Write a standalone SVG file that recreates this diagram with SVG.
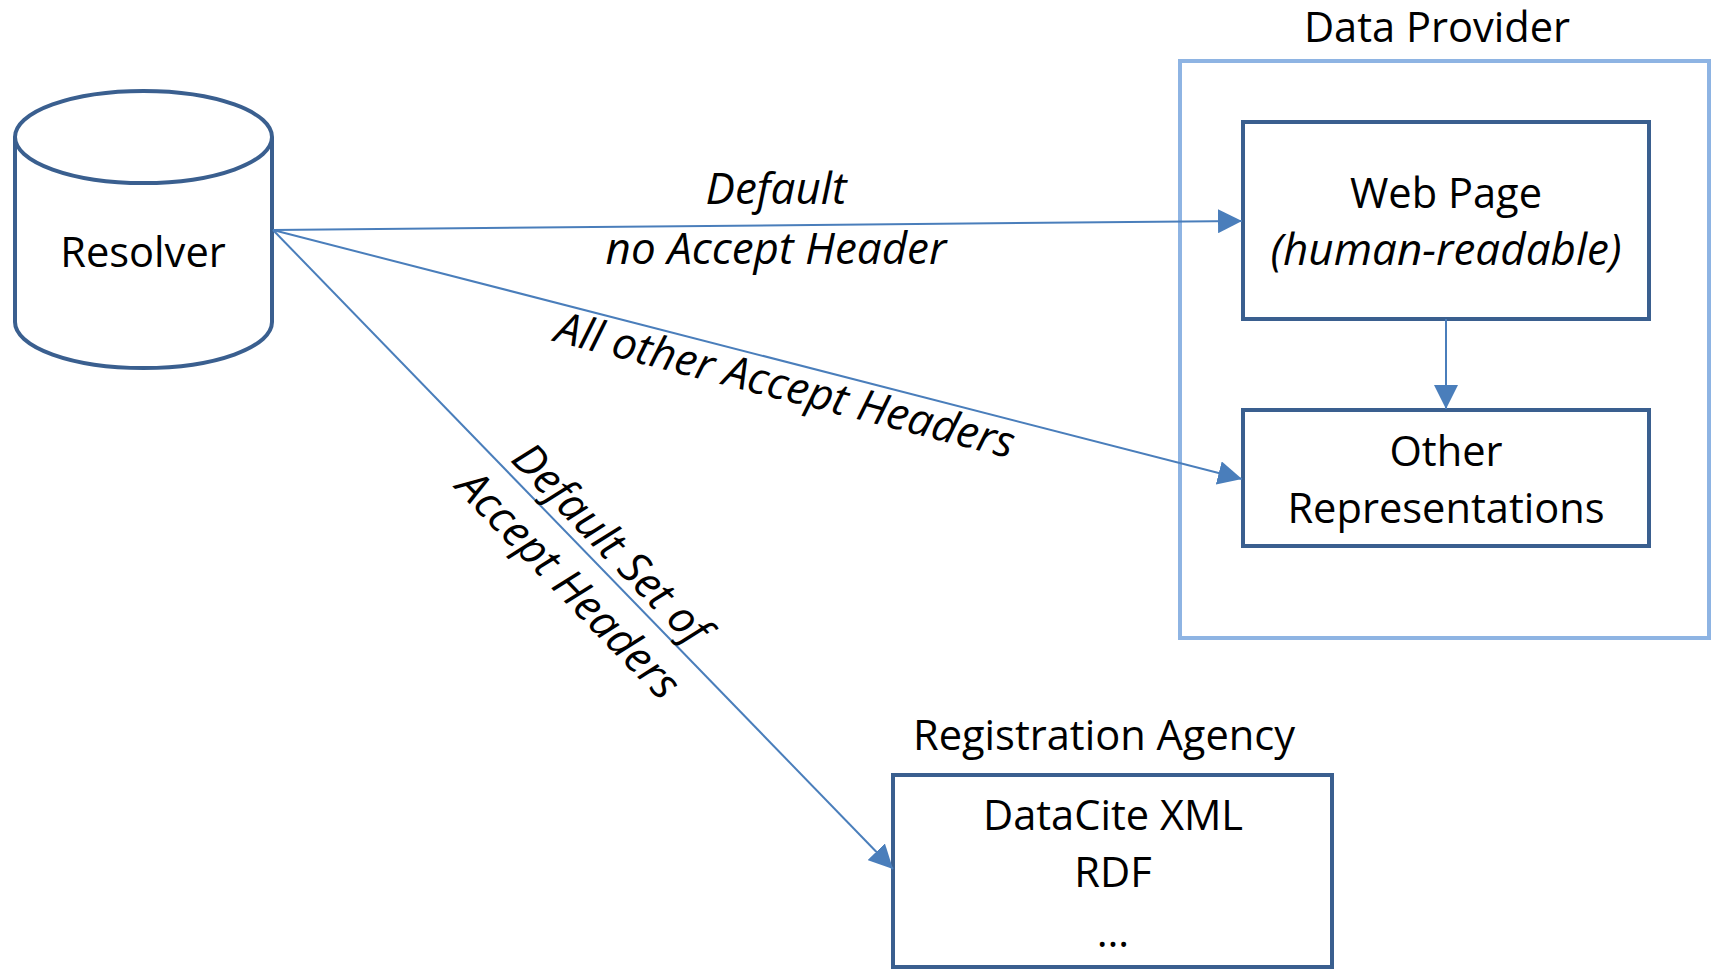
<svg xmlns="http://www.w3.org/2000/svg" width="1718" height="969" viewBox="0 0 1718 969">
<style>
.t{font-family:"Open Sans","Liberation Sans",sans-serif;font-size:41.6px;fill:#000;text-anchor:middle}
.i{font-style:italic;font-size:44px}
.node{fill:#fff;stroke:#3A5F8F;stroke-width:4}
.group{fill:none;stroke:#8EB4E3;stroke-width:4}
.conn{fill:none;stroke:#4A7EBB;stroke-width:2}
</style>
<defs>
<marker id="ah" markerUnits="userSpaceOnUse" viewBox="0 0 24 24" refX="24" refY="12" markerWidth="24" markerHeight="24" orient="auto">
<path d="M0,0 L24,12 L0,24 Z" fill="#4A7EBB"/>
</marker>
</defs>
<rect width="1718" height="969" fill="#fff"/>

<g id="data-provider">
<rect class="group" x="1180" y="61" width="529" height="577"/>
<text class="t" x="1437" y="42">Data Provider</text>
</g>

<g id="resolver">
<path class="node" d="M15,137 V322 A128.5,46 0 0 0 272,322 V137"/>
<ellipse class="node" cx="143.5" cy="137" rx="128.5" ry="46"/>
<text class="t" x="143" y="267">Resolver</text>
</g>

<g id="web-page">
<rect class="node" x="1243" y="122" width="406" height="197"/>
<text class="t" x="1446" y="208">Web Page</text>
<text class="t i" x="1446" y="265">(human-readable)</text>
</g>

<g id="other-representations">
<rect class="node" x="1243" y="410" width="406" height="136"/>
<text class="t" x="1446" y="466">Other</text>
<text class="t" x="1446" y="523">Representations</text>
</g>

<g id="registration-agency">
<text class="t" x="1104" y="750">Registration Agency</text>
<rect class="node" x="893" y="775" width="439" height="192"/>
<text class="t" x="1113" y="830">DataCite XML</text>
<text class="t" x="1113" y="887">RDF</text>
<text class="t" x="1113" y="947">…</text>
</g>

<g id="connectors">
<line class="conn" x1="273" y1="230" x2="1242" y2="221" marker-end="url(#ah)"/>
<line class="conn" x1="273" y1="230" x2="1242" y2="479" marker-end="url(#ah)"/>
<line class="conn" x1="273" y1="230" x2="893" y2="869" marker-end="url(#ah)"/>
<line class="conn" x1="1446" y1="319" x2="1446" y2="409" marker-end="url(#ah)"/>
<text class="t i" x="776" y="204">Default</text>
<text class="t i" x="776" y="264">no Accept Header</text>
<text class="t i" transform="translate(791,363) rotate(14.41)" x="0" y="38">All other Accept Headers</text>
<g transform="translate(593,561) rotate(45.9)">
<text class="t i" x="0" y="-10">Default Set of</text>
<text class="t i" x="0" y="49">Accept Headers</text>
</g>
</g>
</svg>
